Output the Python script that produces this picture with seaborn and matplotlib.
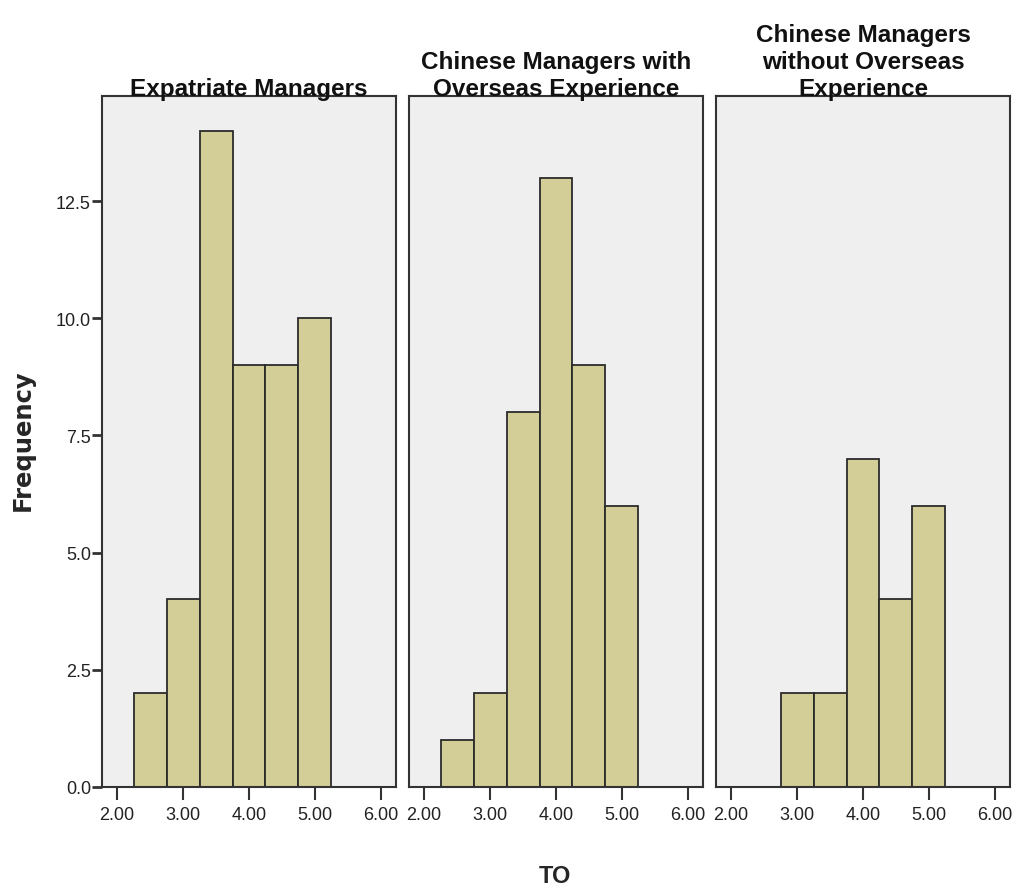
import matplotlib
matplotlib.use("Agg")
import matplotlib.pyplot as plt
import numpy as np
import seaborn as sns

# Bin edges of the TO score histograms (width 0.5)
bin_edges = [2.25, 2.75, 3.25, 3.75, 4.25, 4.75, 5.25]
bin_centers = [2.5, 3.0, 3.5, 4.0, 4.5, 5.0]

# Frequencies per group
expatriate_counts = [2, 4, 14, 9, 9, 10]
chinese_overseas_counts = [1, 2, 8, 13, 9, 6]
chinese_domestic_counts = [0, 2, 2, 7, 4, 6]

panel_titles = [
    "Expatriate Managers",
    "Chinese Managers with\nOverseas Experience",
    "Chinese Managers\nwithout Overseas\nExperience",
]
x_ticks = [2.0, 3.0, 4.0, 5.0, 6.0]
x_tick_labels = ["2.00", "3.00", "4.00", "5.00", "6.00"]
y_ticks = [0.0, 2.5, 5.0, 7.5, 10.0, 12.5]
y_tick_labels = ["0.0", "2.5", "5.0", "7.5", "10.0", "12.5"]

sns.set_style("white")
plt.rcParams["font.family"] = ["Liberation Sans", "DejaVu Sans"]

fig = plt.figure(figsize=(10.19, 8.95), dpi=100)

bar_color = "#d3ce97"
panel_bg = "#efefef"
edge = "#2b2b2b"

lefts = [102 / 1019, 409 / 1019, 716 / 1019]
width = 294 / 1019
bottom = (895 - 788) / 895
height = (788 - 97) / 895

groups = [expatriate_counts, chinese_overseas_counts, chinese_domestic_counts]

for i, (counts, title) in enumerate(zip(groups, panel_titles)):
    ax = fig.add_axes([lefts[i], bottom, width, height])
    ax.set_facecolor(panel_bg)
    sns.histplot(
        x=bin_centers, weights=counts, bins=bin_edges, ax=ax,
        color=bar_color, edgecolor=edge, linewidth=1.3, alpha=1.0,
    )
    ax.set_xlim(1.77, 6.23)
    ax.set_ylim(0, 14.74)
    for s in ax.spines.values():
        s.set_visible(True)
        s.set_color("#333333")
        s.set_linewidth(1.5)
    ax.set_xticks(x_ticks)
    ax.set_xticklabels(x_tick_labels, fontsize=13, color="#222222")
    ax.tick_params(axis="x", direction="out", length=9.5, width=1.5,
                   color="#333333", pad=4, bottom=True)
    if i == 0:
        ax.set_yticks(y_ticks)
        ax.set_yticklabels(y_tick_labels, fontsize=13, color="#222222")
        ax.tick_params(axis="y", direction="out", length=7, width=2,
                       color="#333333", pad=1, left=True)
    else:
        ax.set_yticks([])
    ax.set_xlabel("")
    ax.set_ylabel("")
    ax.set_title(title, fontsize=17.5, fontweight="bold", pad=1,
                 linespacing=1.2, color="#111111")

fig.text(23 / 1019, 1 - 440 / 895, "Frequency", rotation=90, ha="center",
         va="center", fontsize=17.5, fontweight="bold",
         family=["DejaVu Sans"])
fig.text(555 / 1019, 1 - 877 / 895, "TO", ha="center", va="center",
         fontsize=17, fontweight="bold",
         family=["Liberation Sans", "DejaVu Sans"])

fig.savefig("out.png", dpi=100)
